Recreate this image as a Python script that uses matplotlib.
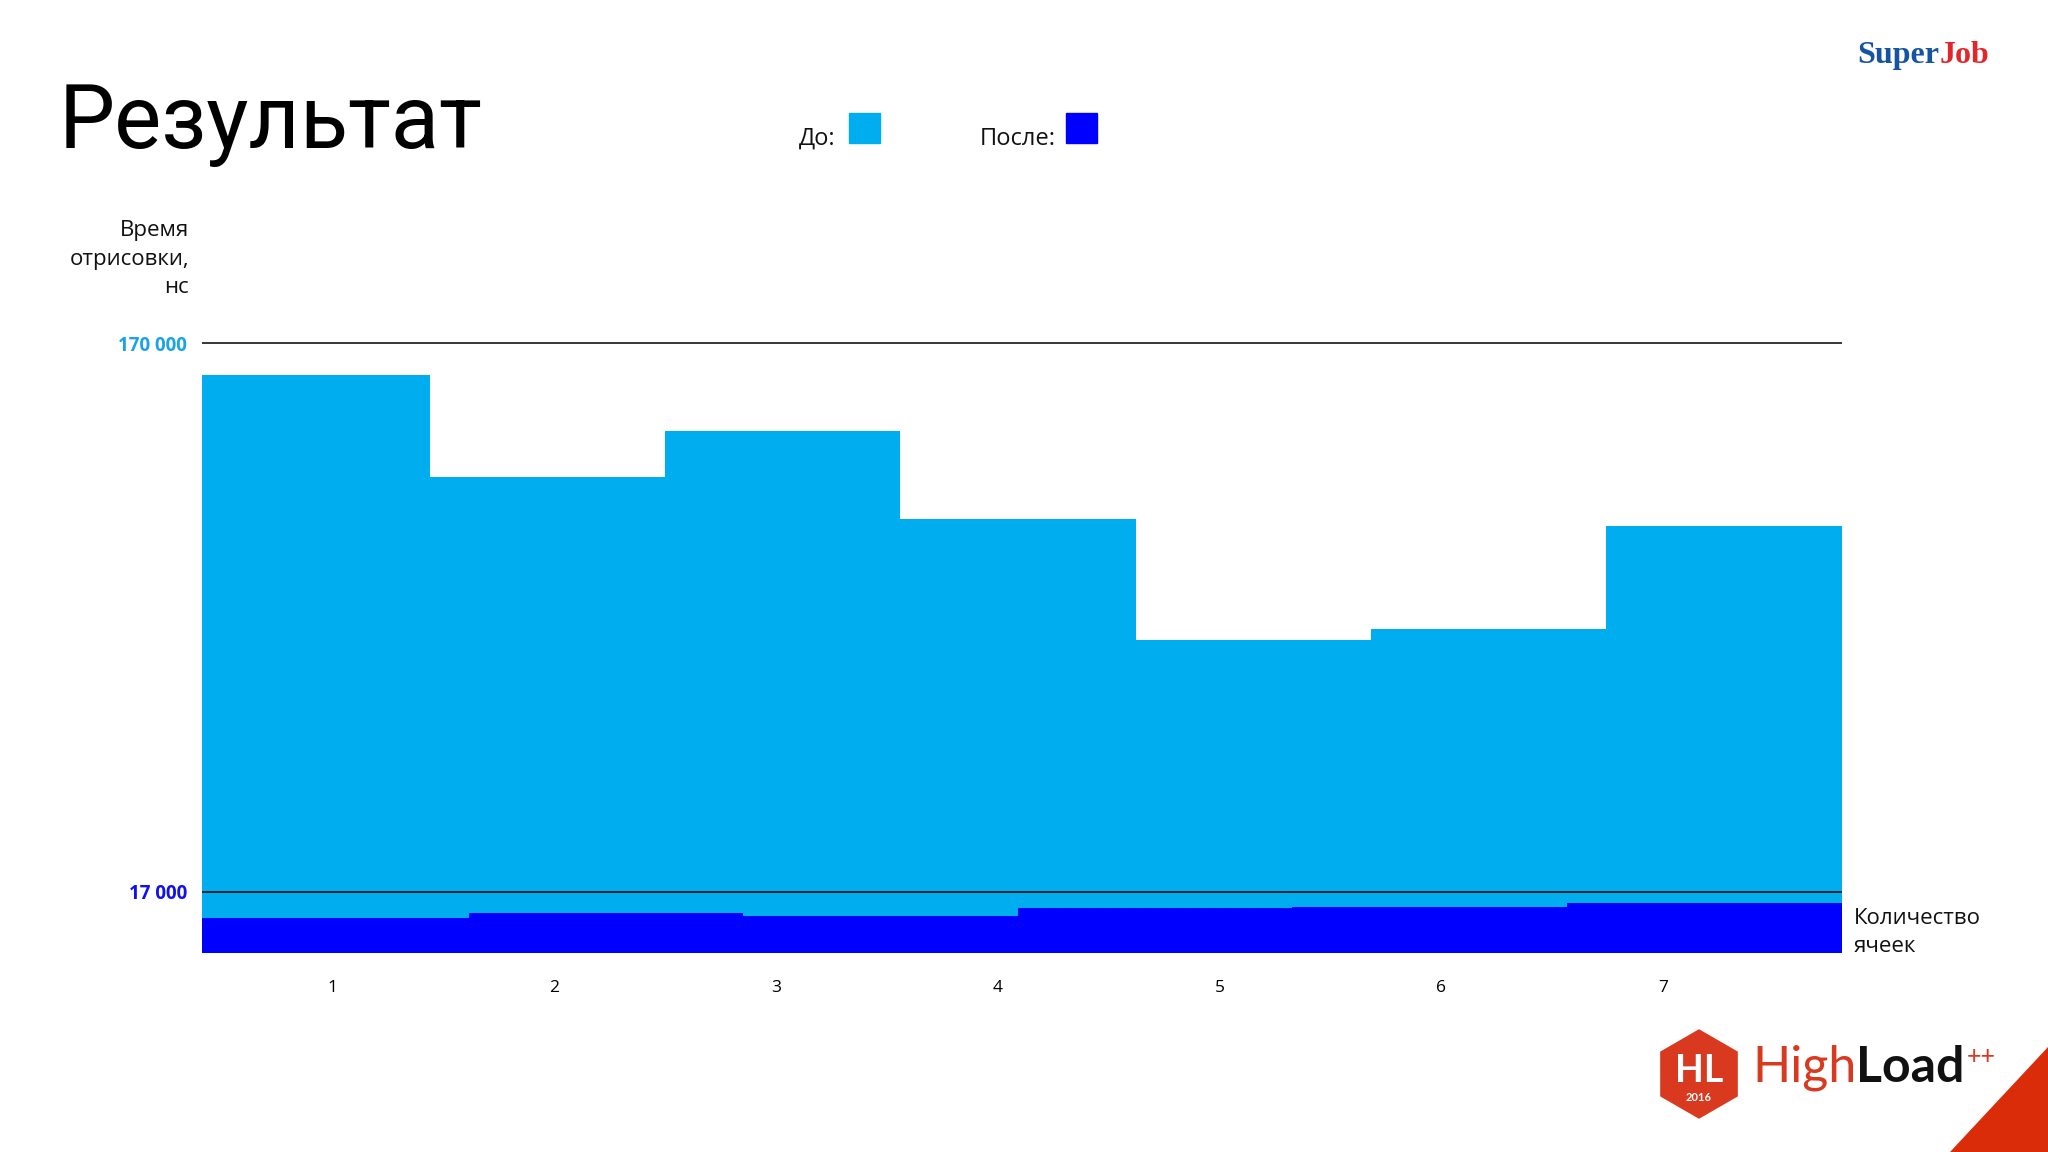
import numpy as np
import matplotlib
matplotlib.use("Agg")
import matplotlib.pyplot as plt
from matplotlib.patches import Rectangle, Polygon

# ---------------- data ----------------
categories = ["1", "2", "3", "4", "5", "6", "7"]
before_values = [161300, 132800, 145500, 121100, 87200, 90400, 119000]   # "До"
after_values = [9600, 10950, 10300, 12300, 12700, 13800]                # "После"
y_ticks = [17000, 170000]
y_tick_labels = ["17 000", "170 000"]

# ---------------- style ----------------
C_BEFORE = "#00AEEF"
C_AFTER = "#0000FF"
C_BEFORE_TXT = "#1BA3E6"
C_AFTER_TXT = "#1010F0"
FONT = ["Open Sans", "DejaVu Sans"]
plt.rcParams["font.family"] = FONT

W, H = 2048, 1152
fig = plt.figure(figsize=(W / 100, H / 100), dpi=100)
fig.patch.set_facecolor("white")

def fx(px):
    return px / W

def fy(py):
    return 1 - py / H

# axes placement (pixels)
ax_left, ax_right = 202.4, 1842.0
ax_bottom = 952.5
y_top_val = 175000
px_per_val = (952.5 - 343.4) / 170000
ax_top = ax_bottom - px_per_val * y_top_val
ax = fig.add_axes([fx(ax_left), fy(ax_bottom), (ax_right - ax_left) / W, (ax_bottom - ax_top) / H])

n_before = len(before_values)
edges_before = np.arange(n_before + 1)
edges_after = np.linspace(0, n_before, len(after_values) + 1)

ax.stairs(before_values, edges_before, fill=True, color=C_BEFORE, baseline=0, zorder=1)
ax.stairs(after_values, edges_after, fill=True, color=C_AFTER, baseline=0, zorder=1.2)

ax.set_xlim(0.034, n_before + 0.002)
ax.set_ylim(0, y_top_val)
for s in ax.spines.values():
    s.set_visible(False)
ax.set_xticks([])
ax.set_yticks(y_ticks)
ax.set_yticklabels(y_tick_labels, fontsize=13.5, fontweight="bold")
ax.tick_params(axis="y", length=0, pad=11)
for lbl, col in zip(ax.get_yticklabels(), [C_AFTER_TXT, C_BEFORE_TXT]):
    lbl.set_color(col)
ax.yaxis.grid(True, color="black", linewidth=1.1)
ax.set_axisbelow(False)
ax.patch.set_alpha(0)

# category labels on their own scale
ax2 = ax.twiny()
ax2.set_xlim(0.412, 7.808)
ax2.xaxis.set_ticks_position("bottom")
ax2.set_xticks(np.arange(1, len(categories) + 1))
ax2.set_xticklabels(categories, fontsize=12.5)
ax2.tick_params(axis="x", length=0, pad=20)
for s in ax2.spines.values():
    s.set_visible(False)

# axis titles
fig.text(fx(189), fy(259), "Время\nотрисовки,\nнс", ha="right", va="center",
         fontsize=16, linespacing=1.47, color="#111111")
fig.text(fx(1854), fy(932.5), "Количество\nячеек", ha="left", va="center",
         fontsize=16, linespacing=1.47, color="#111111")

# title
fig.text(fx(59), fy(147.6), "Результат", ha="left", va="baseline", fontsize=64,
         family=["Roboto", "DejaVu Sans"], color="black")

# legend
fig.text(fx(799), fy(145), "До:", ha="left", va="baseline", fontsize=17, color="#111111")
fig.add_artist(Rectangle((fx(849.3), fy(143.3)), (880 - 849.3) / W, (143.3 - 112.7) / H,
                         transform=fig.transFigure, color=C_BEFORE))
fig.text(fx(980), fy(145), "После:", ha="left", va="baseline", fontsize=17, color="#111111")
fig.add_artist(Rectangle((fx(1066), fy(143.3)), (1097.3 - 1066) / W, (143.3 - 112.7) / H,
                         transform=fig.transFigure, color=C_AFTER))

# SuperJob logo
renderer = fig.canvas.get_renderer()
t_super = fig.text(fx(1857), fy(63.3), "Super", ha="left", va="baseline", fontsize=23,
                   fontweight="bold", family=["Liberation Serif"], color="#1553A3")
bb = t_super.get_window_extent(renderer=renderer)
fig.text(bb.x1 / W + 1 / W, fy(63.3), "Job", ha="left", va="baseline", fontsize=23,
         fontweight="bold", family=["Liberation Serif"], color="#E3262A")

# HighLoad++ logo
RED = "#D8391F"
cx, cy, r = 1699.0, 1074.0, 44.0
hex_pts = [(fx(cx + r * np.cos(np.radians(a))), fy(cy - r * np.sin(np.radians(a))))
           for a in (90, 150, 210, 270, 330, 30)]
fig.add_artist(Polygon(hex_pts, closed=True, transform=fig.transFigure, color=RED))
fig.text(fx(cx), fy(1082), "HL", ha="center", va="baseline", fontsize=27,
         fontweight="bold", family=["Lato", "DejaVu Sans"], color="white")
fig.text(fx(cx), fy(1101), "2016", ha="center", va="baseline", fontsize=8,
         fontweight="bold", family=["Lato", "DejaVu Sans"], color="white")
t_high = fig.text(fx(1752), fy(1081.7), "High", ha="left", va="baseline", fontsize=36,
                  fontweight="normal", family=["Lato", "DejaVu Sans"], color=RED)
bb = t_high.get_window_extent(renderer=renderer)
t_load = fig.text(bb.x1 / W, fy(1081.7), "Load", ha="left", va="baseline", fontsize=36,
                  fontweight="bold", family=["Lato", "DejaVu Sans"], color="#111111")
fig.text(fx(1967), fy(1064), "++", ha="left", va="baseline", fontsize=18,
         family=["Lato", "DejaVu Sans"], color=RED)
fig.add_artist(Polygon([(fx(1950), 0), (1, 0), (1, fy(1046.7))], closed=True,
                       transform=fig.transFigure, color="#DA2C08"))

fig.savefig("out.png", dpi=100)
